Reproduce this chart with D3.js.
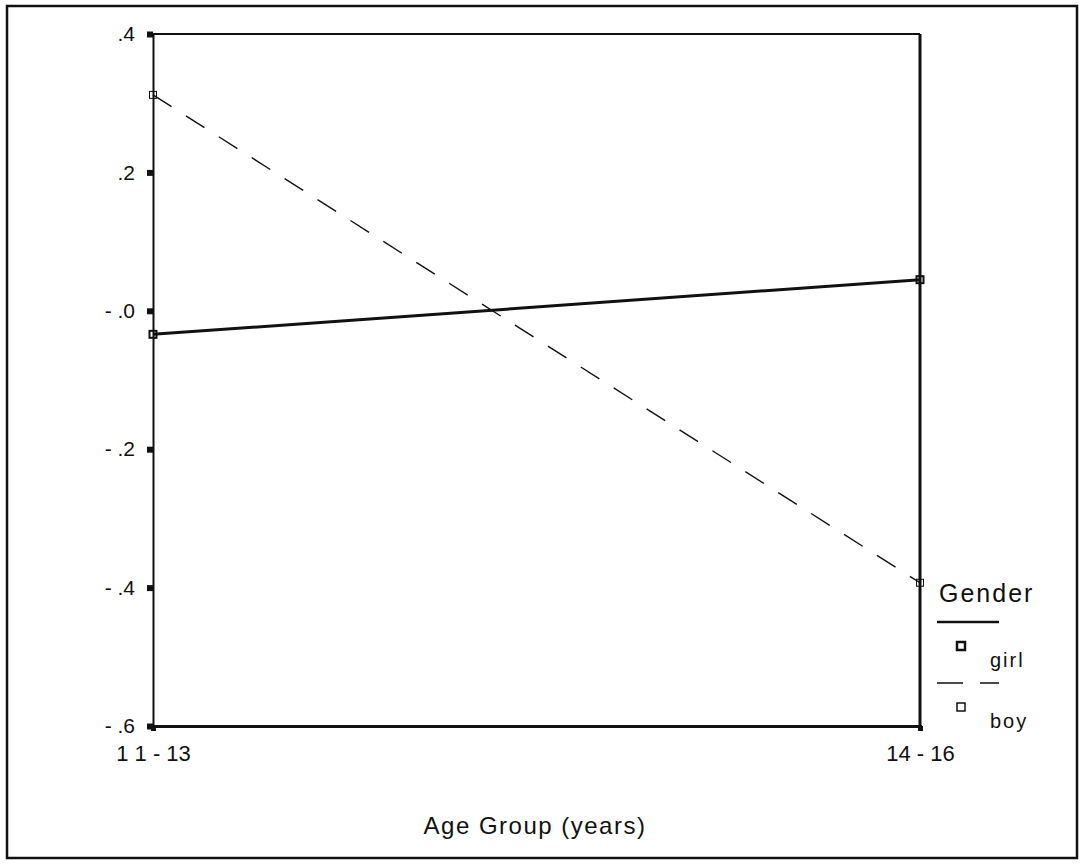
<!DOCTYPE html>
<html>
<head>
<meta charset="utf-8">
<script src="https://cdn.jsdelivr.net/npm/d3@7"></script>
<style>
  body { margin: 0; background: #fff; }
  text { font-family: "Liberation Sans", Arial, sans-serif; fill: #111; }
</style>
</head>
<body>
<svg id="chart"></svg>
<script>
const width = 1085;
const height = 864;

// data
const ageGroups = ["11-13", "14-16"];
const ageLabels = ["1 1 - 13", "14 - 16"];
const genders = ["girl", "boy"];
const girlValues = [-0.034, 0.045];
const boyValues = [0.312, -0.393];
const yTicks = [0.4, 0.2, 0, -0.2, -0.4, -0.6];
const yTickLabels = [".4", ".2", "- .0", "- .2", "- .4", "- .6"];

const series = [
    { name: "girl", values: girlValues, dash: null, width: 3 },
    { name: "boy", values: boyValues, dash: "22,17", width: 1.4 }
];

const plotLeft = 153, plotRight = 920, plotTop = 34, plotBottom = 726;

const svg = d3.select("#chart")
    .attr("width", width)
    .attr("height", height);

// outer frame
svg.append("rect")
    .attr("x", 7)
    .attr("y", 6)
    .attr("width", 1070)
    .attr("height", 852)
    .attr("fill", "none")
    .attr("stroke", "#111")
    .attr("stroke-width", 2.5);

const x = d3.scalePoint().domain(ageGroups).range([plotLeft, plotRight]);
const y = d3.scaleLinear().domain([-0.6, 0.4]).range([plotBottom, plotTop]);

// plot box
svg.append("line").attr("x1", plotLeft).attr("x2", plotRight).attr("y1", plotTop).attr("y2", plotTop)
    .attr("stroke", "#111").attr("stroke-width", 2);
svg.append("line").attr("x1", plotRight).attr("x2", plotRight).attr("y1", plotTop).attr("y2", plotBottom)
    .attr("stroke", "#111").attr("stroke-width", 3);

const yAxis = svg.append("g")
    .attr("transform", "translate(" + plotLeft + ",0)")
    .call(d3.axisLeft(y).tickValues(yTicks).tickSize(6).tickPadding(12)
        .tickFormat((d, i) => yTickLabels[i]));
yAxis.select(".domain").attr("stroke", "#111").attr("stroke-width", 2);
yAxis.selectAll(".tick line").attr("stroke", "#111").attr("stroke-width", 6);
yAxis.selectAll(".tick text")
    .attr("font-size", 21)
    .attr("font-family", "\"Liberation Sans\", Arial, sans-serif")
    .attr("fill", "#111");

const xAxis = svg.append("g")
    .attr("transform", "translate(0," + plotBottom + ")")
    .call(d3.axisBottom(x).tickSize(5).tickPadding(14)
        .tickFormat((d, i) => ageLabels[i]));
xAxis.select(".domain").attr("stroke", "#111").attr("stroke-width", 3);
xAxis.selectAll(".tick line").attr("stroke", "#111").attr("stroke-width", 5);
xAxis.selectAll(".tick text")
    .attr("font-size", 22)
    .attr("font-family", "\"Liberation Sans\", Arial, sans-serif")
    .attr("fill", "#111");

svg.append("text")
    .attr("x", 535)
    .attr("y", 834)
    .attr("text-anchor", "middle")
    .attr("font-size", 24)
    .attr("letter-spacing", 1.5)
    .text("Age Group (years)");

const line = d3.line()
    .x((d, i) => x(ageGroups[i]))
    .y(d => y(d));

svg.selectAll(".series").data(series).enter()
    .append("path")
    .attr("class", "series")
    .attr("d", d => line(d.values))
    .attr("fill", "none")
    .attr("stroke", "#111")
    .attr("stroke-width", d => d.width)
    .attr("stroke-dasharray", d => d.dash);

series.forEach(s => {
    svg.selectAll(".mark-" + s.name).data(s.values).enter()
        .append("rect")
        .attr("x", (d, i) => x(ageGroups[i]) - 3.5)
        .attr("y", d => y(d) - 3.5)
        .attr("width", 7)
        .attr("height", 7)
        .attr("fill", "none")
        .attr("stroke", "#111")
        .attr("stroke-width", s.name === "girl" ? 2 : 1);
});

// legend
const legend = svg.append("g");

legend.append("text")
    .attr("x", 939)
    .attr("y", 602)
    .attr("font-size", 25)
    .attr("letter-spacing", 2)
    .text("Gender");

genders.forEach((g, i) => {
    const s = series[i];
    const ly = 622 + i * 61;
    legend.append("line")
        .attr("x1", 937).attr("x2", 999)
        .attr("y1", ly).attr("y2", ly)
        .attr("stroke", "#111")
        .attr("stroke-width", s.name === "girl" ? 2.5 : 1.4)
        .attr("stroke-dasharray", s.dash ? "26,17" : null);
    legend.append("rect")
        .attr("x", 957).attr("y", ly + 20)
        .attr("width", 8).attr("height", 8)
        .attr("fill", "none")
        .attr("stroke", "#111")
        .attr("stroke-width", s.name === "girl" ? 2.5 : 1.5);
    legend.append("text")
        .attr("x", 990)
        .attr("y", ly + 45)
        .attr("font-size", 20)
        .attr("letter-spacing", 2)
        .text(g);
});
</script>
</body>
</html>
